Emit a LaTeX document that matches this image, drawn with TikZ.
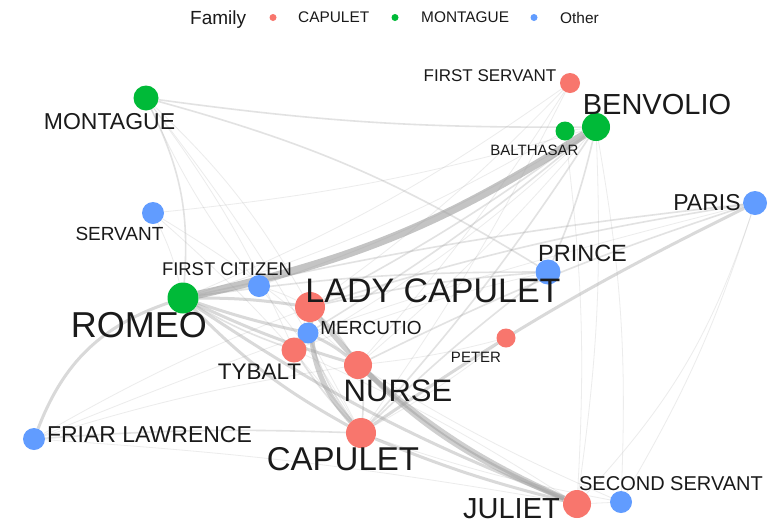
\documentclass[tikz,border=0pt]{standalone}
\usepackage{fontspec}
\setmainfont{Liberation Sans}
\definecolor{capc}{HTML}{F8766D}
\definecolor{monc}{HTML}{00BA38}
\definecolor{othc}{HTML}{619CFF}
\definecolor{edgec}{HTML}{A0A0A0}
\definecolor{txtc}{HTML}{1A1A1A}
\newcommand{\fsz}[1]{\fontsize{#1}{#1}\selectfont}
\pgfdeclarelayer{base}
\pgfdeclarelayer{bg}
\pgfsetlayers{base,bg,main}
\begin{document}
\begin{tikzpicture}[x=1pt,y=-1pt,
 vtx/.style={circle,inner sep=0pt,draw=none},
 lbl/.style={text=txtc,inner sep=0pt},
 ea/.style={draw=edgec,line width=0.8pt,opacity=0.2},
 eb/.style={draw=edgec,line width=1.6pt,opacity=0.3},
 ec/.style={draw=edgec,line width=3pt,opacity=0.4},
 ed/.style={draw=edgec,line width=5pt,opacity=0.5},
 ee/.style={draw=edgec,line width=8pt,opacity=0.62}]
\begin{pgfonlayer}{base}
\fill[white] (0,0) rectangle (769,523);
\end{pgfonlayer}
\useasboundingbox (0,0) rectangle (769,523);

% vertices
\node[vtx,fill=monc,minimum size=25pt] (mon) at (146,98) {};
\node[vtx,fill=othc,minimum size=22pt] (ser) at (153,213) {};
\node[vtx,fill=capc,minimum size=20pt] (fse) at (570,83) {};
\node[vtx,fill=monc,minimum size=19pt] (bal) at (565,131) {};
\node[vtx,fill=monc,minimum size=28pt] (ben) at (596,127) {};
\node[vtx,fill=othc,minimum size=24pt] (par) at (755,203) {};
\node[vtx,fill=othc,minimum size=25pt] (pri) at (548,272) {};
\node[vtx,fill=othc,minimum size=22pt] (fci) at (259,286) {};
\node[vtx,fill=monc,minimum size=31pt] (rom) at (183,298) {};
\node[vtx,fill=capc,minimum size=30pt] (lca) at (310,307) {};
\node[vtx,fill=othc,minimum size=21pt] (mer) at (308,333) {};
\node[vtx,fill=capc,minimum size=25pt] (tyb) at (294,350) {};
\node[vtx,fill=capc,minimum size=28pt] (nur) at (358,365) {};
\node[vtx,fill=capc,minimum size=19pt] (pet) at (506,338) {};
\node[vtx,fill=othc,minimum size=22pt] (fri) at (34,439) {};
\node[vtx,fill=capc,minimum size=30pt] (cap) at (361,433) {};
\node[vtx,fill=capc,minimum size=28pt] (jul) at (577,504) {};
\node[vtx,fill=othc,minimum size=22pt] (sse) at (621,502) {};

% edges
\begin{pgfonlayer}{bg}
\draw[ee] (rom) to[bend right=10] (ben);
\draw[ed] (lca) to[bend right=14] (jul);
\draw[ed] (nur) to[bend right=8] (jul);
\draw[ed] (lca) to[bend right=20] (cap);
\draw[ec] (rom) to[bend right=6] (jul);
\draw[ec] (rom) to[bend right=4] (nur);
\draw[ec] (rom) to[bend right=8] (cap);
\draw[ec] (rom) to[bend left=4] (lca);
\draw[ec] (rom) to[bend right=3] (mer);
\draw[eb] (rom) to[bend right=5] (tyb);
\draw[ec] (rom) to[bend right=25] (fri);
\draw[ec] (cap) to[bend right=4] (jul);
\draw[eb] (lca) to[bend left=8] (nur);
\draw[eb] (cap) to[bend right=8] (nur);
\draw[ec] (mer) to[bend left=6] (nur);
\draw[eb] (mon) to[bend right=4] (ben);
\draw[eb] (mon) to[bend left=8] (pri);
\draw[eb] (mon) to[bend left=15] (rom);
\draw[ea] (mon) to[bend left=8] (lca);
\draw[ea] (mon) to[bend left=5] (cap);
\draw[ea] (mon) to[bend left=6] (tyb);
\draw[ea] (ser) to[bend right=5] (ben);
\draw[ea] (ser) to[bend left=6] (rom);
\draw[ea] (ser) to[bend left=5] (cap);
\draw[ea] (ser) to[bend left=5] (nur);
\draw[ea] (fse) to[bend left=4] (cap);
\draw[ea] (fse) to[bend left=5] (lca);
\draw[ea] (fse) to[bend left=4] (nur);
\draw[ea] (fse) to[bend left=6] (rom);
\draw[eb] (ben) to[bend left=4] (mer);
\draw[eb] (ben) to[bend left=4] (lca);
\draw[ea] (ben) to[bend left=4] (nur);
\draw[eb] (ben) to[bend left=4] (cap);
\draw[eb] (ben) to[bend left=5] (pri);
\draw[ea] (ben) to (bal);
\draw[ea] (ben) to[bend left=5] (jul);
\draw[ea] (ben) to[bend left=6] (tyb);
\draw[ea] (ben) to[bend left=6] (fci);
\draw[ea] (bal) to[bend left=6] (rom);
\draw[ea] (bal) to[bend left=5] (jul);
\draw[ec] (par) to[bend right=4] (cap);
\draw[eb] (par) to[bend right=4] (lca);
\draw[ea] (par) to[bend left=12] (jul);
\draw[eb] (par) to[bend right=4] (nur);
\draw[eb] (par) to[bend right=3] (rom);
\draw[ea] (par) to[bend right=4] (fri);
\draw[eb] (pri) to[bend right=4] (rom);
\draw[eb] (pri) to[bend right=3] (cap);
\draw[eb] (pri) to[bend right=4] (lca);
\draw[ea] (pri) to[bend right=4] (tyb);
\draw[ea] (pet) to[bend left=4] (nur);
\draw[ea] (pet) to[bend left=4] (cap);
\draw[ea] (sse) to[bend left=4] (cap);
\draw[ea] (sse) to (jul);
\draw[ea] (sse) to[bend left=4] (nur);
\draw[ea] (sse) to[bend right=6] (ben);
\draw[ea] (sse) to[bend right=6] (par);
\draw[ea] (fri) to[bend left=3] (jul);
\draw[eb] (fri) to[bend left=3] (cap);
\draw[ea] (fri) to[bend left=4] (nur);
\draw[ea] (fri) to[bend left=4] (lca);
\draw[eb] (tyb) to[bend right=5] (cap);
\draw[ea] (tyb) to (lca);
\draw[ea] (tyb) to (mer);
\draw[eb] (mer) to[bend right=8] (cap);
\draw[ea] (fci) to (rom);
\draw[ea] (fci) to[bend left=4] (cap);
\draw[ea] (fci) to[bend left=4] (lca);
\draw[ea] (fci) to[bend left=6] (mon);
\draw[ea] (jul) to[bend right=4] (tyb);
\end{pgfonlayer}

% labels
\node[lbl,font=\fsz{23}] (lmon) at (109.5,121.5) {MONTAGUE};
\node[lbl,font=\fsz{19}] (lser) at (119.5,234) {SERVANT};
\node[lbl,font=\fsz{17}] (lfse) at (490,76) {FIRST SERVANT};
\node[lbl,font=\fsz{29}] (lben) at (657,105) {BENVOLIO};
\node[lbl,font=\fsz{15}] (lbal) at (534.5,150) {BALTHASAR};
\node[lbl,font=\fsz{23}] (lpar) at (707,202.5) {PARIS};
\node[lbl,font=\fsz{23.5}] (lpri) at (582.5,253) {PRINCE};
\node[lbl,font=\fsz{18.4}] (lfci) at (227,269.5) {FIRST CITIZEN};
\node[lbl,font=\fsz{36}] (lrom) at (139,325.5) {ROMEO};
\node[lbl,font=\fsz{34}] (llca) at (433,290.5) {LADY CAPULET};
\node[lbl,font=\fsz{19}] (lmer) at (371,327.5) {MERCUTIO};
\node[lbl,font=\fsz{22.5}] (ltyb) at (259.5,371.5) {TYBALT};
\node[lbl,font=\fsz{31}] (lnur) at (398,390.5) {NURSE};
\node[lbl,font=\fsz{15}] (lpet) at (476,357.5) {PETER};
\node[lbl,font=\fsz{23}] (lfri) at (149.5,435) {FRIAR LAWRENCE};
\node[lbl,font=\fsz{33}] (lcap) at (343,459.5) {CAPULET};
\node[lbl,font=\fsz{29}] (ljul) at (511.5,508.5) {JULIET};
\node[lbl,font=\fsz{20}] (lsse) at (671,484) {SECOND SERVANT};

% legend
\node[lbl,font=\fsz{19},anchor=base west] (lgt) at (190,24) {Family};
\node[vtx,fill=capc,minimum size=7pt] (lg1) at (273,17.5) {};
\node[lbl,font=\fsz{15.4},anchor=west] (lg1t) at (298,17.5) {CAPULET};
\node[vtx,fill=monc,minimum size=7pt] (lg2) at (395,17.5) {};
\node[lbl,font=\fsz{15.4},anchor=west] (lg2t) at (421,17.5) {MONTAGUE};
\node[vtx,fill=othc,minimum size=7pt] (lg3) at (534,17.5) {};
\node[lbl,font=\fsz{15.4},anchor=base west] (lg3t) at (560,23) {Other};
\end{tikzpicture}
\end{document}
